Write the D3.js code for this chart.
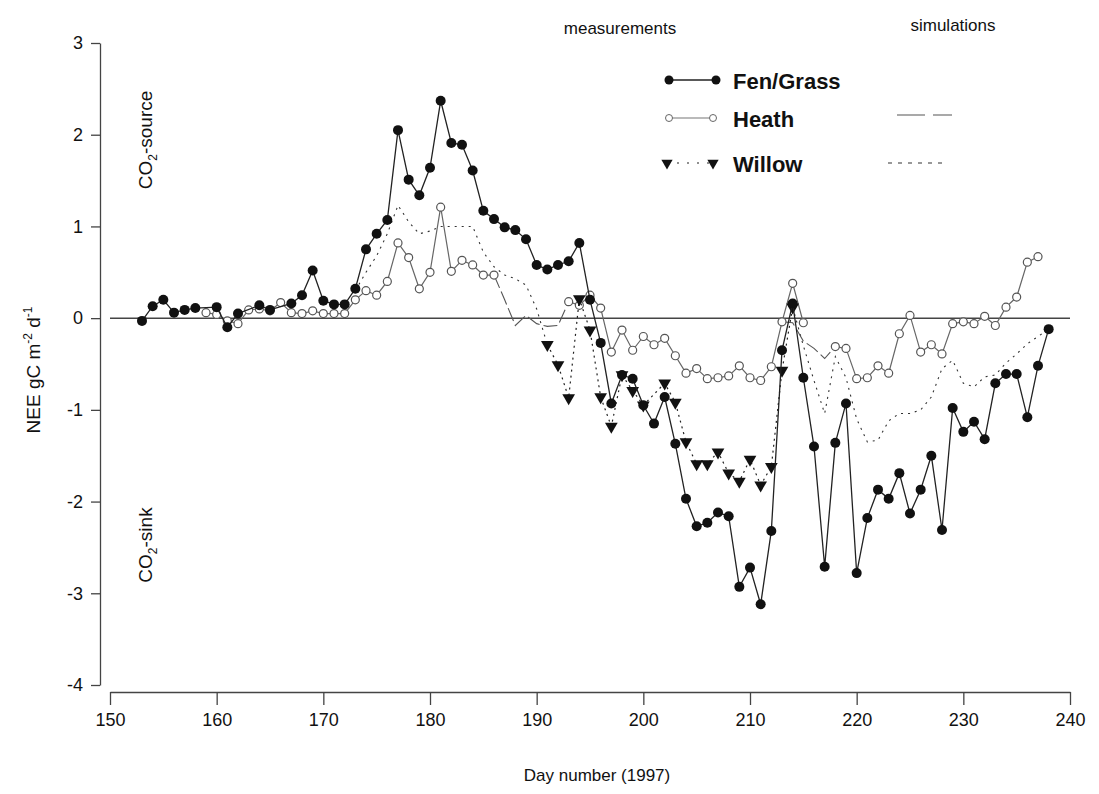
<!DOCTYPE html>
<html><head><meta charset="utf-8">
<script src="https://cdn.jsdelivr.net/npm/d3@7"></script>
<style>body{margin:0;background:#fff} svg{display:block} text{font-family:"Liberation Sans",Arial,sans-serif;fill:#111}</style>
</head><body><svg id="c" width="1099" height="794"></svg>
<script>
const days = [153,154,155,156,157,158,159,160,161,162,163,164,165,166,167,168,169,170,171,172,
  173,174,175,176,177,178,179,180,181,182,183,184,185,186,187,188,189,190,191,192,
  193,194,195,196,197,198,199,200,201,202,203,204,205,206,207,208,209,210,211,212,
  213,214,215,216,217,218,219,220,221,222,223,224,225,226,227,228,229,230,231,232,
  233,234,235,236,237,238];
const fenGrass = [-0.03,0.13,0.20,0.06,0.09,0.11,null,0.12,-0.10,0.05,null,0.14,0.09,null,0.16,0.25,0.52,0.19,0.15,0.15,
  0.32,0.75,0.92,1.07,2.05,1.51,1.34,1.64,2.37,1.91,1.89,1.61,1.17,1.08,0.99,0.96,0.86,0.58,0.53,0.58,
  0.62,0.82,0.20,-0.27,-0.93,-0.62,-0.66,-0.95,-1.15,-0.86,-1.37,-1.97,-2.27,-2.23,-2.12,-2.16,-2.93,-2.72,-3.12,-2.32,
  -0.35,0.16,-0.65,-1.40,-2.71,-1.36,-0.93,-2.78,-2.18,-1.87,-1.97,-1.69,-2.13,-1.87,-1.50,-2.31,-0.98,-1.24,-1.13,-1.32,
  -0.71,-0.61,-0.61,-1.08,-0.52,-0.12];
const heath = [null,null,null,null,null,null,0.06,0.04,-0.03,-0.06,0.09,0.10,0.08,0.17,0.06,0.05,0.08,0.05,0.05,0.05,
  0.20,0.30,0.25,0.40,0.82,0.66,0.32,0.50,1.21,0.51,0.63,0.58,0.47,0.47,null,null,null,null,null,null,
  0.18,0.14,0.25,0.11,-0.37,-0.13,-0.35,-0.20,-0.29,-0.22,-0.41,-0.60,-0.55,-0.66,-0.65,-0.63,-0.52,-0.65,-0.68,-0.53,
  -0.04,0.38,-0.05,null,null,-0.31,-0.33,-0.66,-0.65,-0.52,-0.60,-0.17,0.03,-0.37,-0.29,-0.39,-0.06,-0.04,-0.06,0.02,
  -0.08,0.12,0.23,0.61,0.67,null];
const willow = [null,null,null,null,null,null,null,null,null,null,null,null,null,null,null,null,null,null,null,null,
  null,null,null,null,null,null,null,null,null,null,null,null,null,null,null,null,null,null,-0.29,-0.51,
  -0.87,0.21,-0.13,-0.86,-1.18,-0.62,-0.79,-0.95,null,-0.71,-0.92,-1.35,-1.59,-1.59,-1.46,-1.69,-1.78,-1.54,-1.82,-1.62,
  -0.57,0.12,null,null,null,null,null,null,null,null,null,null,null,null,null,null,null,null,null,null,
  null,null,null,null,null,null];
const heathSim = [null,null,null,null,null,null,null,null,null,null,null,null,null,null,null,null,null,null,null,null,
  null,null,null,null,null,null,null,null,null,null,null,null,null,0.47,0.20,-0.08,0.03,-0.06,-0.09,-0.08,
  0.18,null,null,null,null,null,null,null,null,null,null,null,null,null,null,null,null,null,null,null,
  -0.04,-0.05,-0.25,-0.33,-0.44,-0.31,null,null,null,null,null,null,null,null,null,null,null,null,null,null,
  null,null,null,null,null,null];
const willowSim = [null,null,null,null,null,null,null,null,null,null,null,null,null,null,null,null,null,null,null,null,
  0.30,0.50,0.68,0.92,1.23,1.05,0.92,0.95,1.00,1.00,1.00,1.00,0.72,0.56,0.47,0.43,0.36,0.10,-0.29,null,
  null,null,null,null,null,null,null,null,null,null,null,null,null,null,null,null,null,null,null,null,
  null,0.12,-0.30,-0.68,-1.04,-0.42,-0.65,-1.10,-1.35,-1.33,-1.12,-1.04,-1.04,-1.00,-0.86,-0.55,-0.46,-0.71,-0.75,-0.64,
  -0.62,-0.49,-0.39,-0.28,-0.20,-0.12];
const xTicks = [150,160,170,180,190,200,210,220,230,240];
const yTicks = [-4,-3,-2,-1,0,1,2,3];
const legendLabels = ["Fen/Grass","Heath","Willow"];

const svg = d3.select("#c");
const x = d3.scaleLinear().domain([150,240]).range([110,1070]);
const y = d3.scaleLinear().domain([-4,3]).range([685,43]);

const pts = arr => days.map((d,i)=>({d, v:arr[i]}));
const lineConnect = d3.line().x(p=>x(p.d)).y(p=>y(p.v));
const lineBreak = d3.line().defined(p=>p.v!==null).x(p=>x(p.d)).y(p=>y(p.v));

// axes
const xa = svg.append("g").attr("transform","translate(0,692)")
  .call(d3.axisBottom(x).tickValues(xTicks).tickSize(13).tickSizeOuter(0).tickPadding(8));
const ya = svg.append("g").attr("transform","translate(100,0)")
  .call(d3.axisLeft(y).tickValues(yTicks).tickFormat(v=>String(v)).tickSize(9).tickSizeOuter(0).tickPadding(8));
[xa,ya].forEach(g=>{
  g.selectAll("path,line").attr("stroke","#444").attr("stroke-width",1.3);
  g.selectAll("text").attr("font-size",18).attr("fill","#111").style("font-family","Liberation Sans, Arial, sans-serif");
});

// zero line
svg.append("line").attr("x1",x(150)).attr("x2",x(240)).attr("y1",y(0)).attr("y2",y(0))
  .attr("stroke","#444").attr("stroke-width",1.5);

// simulations
svg.append("path").attr("d",lineBreak(pts(willowSim))).attr("fill","none")
  .attr("stroke","#333").attr("stroke-width",1.1).attr("stroke-dasharray","2,5");
svg.append("path").attr("d",lineBreak(pts(heathSim))).attr("fill","none")
  .attr("stroke","#555").attr("stroke-width",1.1).attr("stroke-dasharray","14,4");

// heath measured
const hp = pts(heath);
svg.append("path").attr("d",lineBreak(hp)).attr("fill","none").attr("stroke","#666").attr("stroke-width",1.2);
svg.selectAll(".hm").data(hp.filter(p=>p.v!==null)).join("circle")
  .attr("cx",p=>x(p.d)).attr("cy",p=>y(p.v)).attr("r",4).attr("fill","#fff").attr("stroke","#555").attr("stroke-width",1.2);

// willow measured
const wp = pts(willow).filter(p=>p.v!==null);
svg.append("path").attr("d",lineConnect(wp)).attr("fill","none").attr("stroke","#222")
  .attr("stroke-width",1.2).attr("stroke-dasharray","2,4");
const tri = d3.symbol().type(d3.symbolTriangle).size(70);
svg.selectAll(".wm").data(wp).join("path").attr("d",tri)
  .attr("transform",p=>`translate(${x(p.d)},${y(p.v)}) rotate(180)`).attr("fill","#111");

// fen measured
const fp = pts(fenGrass).filter(p=>p.v!==null);
svg.append("path").attr("d",lineConnect(fp)).attr("fill","none").attr("stroke","#222").attr("stroke-width",1.3);
svg.selectAll(".fm").data(fp).join("circle")
  .attr("cx",p=>x(p.d)).attr("cy",p=>y(p.v)).attr("r",5).attr("fill","#111");

// axis titles
svg.append("text").attr("x",597).attr("y",781).attr("text-anchor","middle").attr("font-size",17).text("Day number (1997)");
const yt = svg.append("text").attr("transform","translate(40,370) rotate(-90)").attr("text-anchor","middle").attr("font-size",19);
yt.append("tspan").text("NEE gC m");
yt.append("tspan").attr("font-size",12).attr("dy",-8).text("-2");
yt.append("tspan").attr("dy",8).text(" d");
yt.append("tspan").attr("font-size",12).attr("dy",-8).text("-1");

const src = svg.append("text").attr("transform","translate(152,140) rotate(-90)").attr("text-anchor","middle").attr("font-size",19);
src.append("tspan").text("CO");
src.append("tspan").attr("font-size",12).attr("dy",5).text("2");
src.append("tspan").attr("dy",-5).text("-source");
const snk = svg.append("text").attr("transform","translate(152,545) rotate(-90)").attr("text-anchor","middle").attr("font-size",19);
snk.append("tspan").text("CO");
snk.append("tspan").attr("font-size",12).attr("dy",5).text("2");
snk.append("tspan").attr("dy",-5).text("-sink");

// legend
svg.append("text").attr("x",620).attr("y",34).attr("text-anchor","middle").attr("font-size",17).text("measurements");
svg.append("text").attr("x",953).attr("y",31).attr("text-anchor","middle").attr("font-size",17).text("simulations");
const ly = [80,118,163];
const lg = svg.append("g");
// Fen
lg.append("line").attr("x1",669).attr("x2",716).attr("y1",ly[0]).attr("y2",ly[0]).attr("stroke","#222").attr("stroke-width",1.3);
[669,716].forEach(cx=>lg.append("circle").attr("cx",cx).attr("cy",ly[0]).attr("r",4.5).attr("fill","#111"));
// Heath
lg.append("line").attr("x1",669).attr("x2",713).attr("y1",ly[1]).attr("y2",ly[1]).attr("stroke","#777").attr("stroke-width",1.2);
[669,713].forEach(cx=>lg.append("circle").attr("cx",cx).attr("cy",ly[1]).attr("r",3.5).attr("fill","#fff").attr("stroke","#666"));
lg.append("line").attr("x1",897).attr("x2",952).attr("y1",115).attr("y2",115).attr("stroke","#555").attr("stroke-width",1.2).attr("stroke-dasharray","28,8");
// Willow
lg.append("line").attr("x1",667).attr("x2",713).attr("y1",ly[2]).attr("y2",ly[2]).attr("stroke","#222").attr("stroke-width",1.2).attr("stroke-dasharray","2,8");
[667,713].forEach(cx=>lg.append("path").attr("d",d3.symbol().type(d3.symbolTriangle).size(55)).attr("transform",`translate(${cx},${ly[2]}) rotate(180)`).attr("fill","#111"));
lg.append("line").attr("x1",888).attr("x2",948).attr("y1",163).attr("y2",163).attr("stroke","#333").attr("stroke-width",1.1).attr("stroke-dasharray","4,6");
legendLabels.forEach((t,i)=>lg.append("text").attr("x",733).attr("y",ly[i]+9).attr("font-size",22).attr("font-weight","bold").text(t));
</script></body></html>
